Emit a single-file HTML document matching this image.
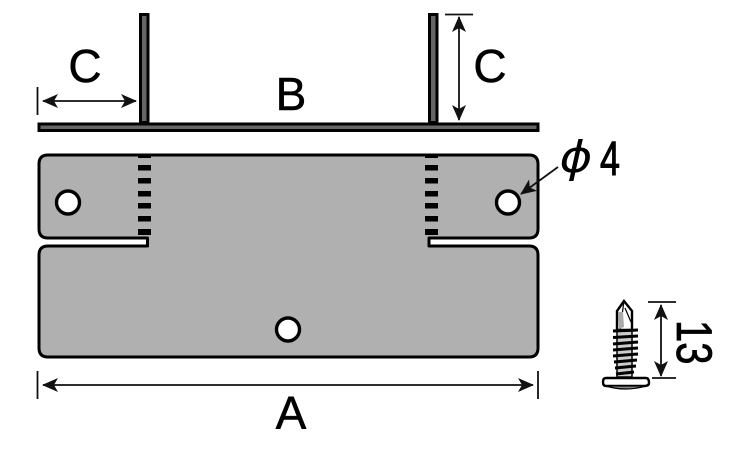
<!DOCTYPE html>
<html><head><meta charset="utf-8"><style>
html,body{margin:0;padding:0;background:#fff;width:750px;height:450px;overflow:hidden}
svg{display:block}
text{font-family:"Liberation Sans",sans-serif;fill:#000}
</style></head><body>
<svg width="750" height="450" viewBox="0 0 750 450" xmlns="http://www.w3.org/2000/svg">
<defs>
<marker id="ah" viewBox="0 0 16 14" refX="15" refY="7" markerWidth="16" markerHeight="14" markerUnits="userSpaceOnUse" orient="auto-start-reverse"><path d="M0,0L16,7L0,14L4,7Z" fill="#111"/></marker>
</defs>
<!-- top profile -->
<rect x="140.500" y="14.500" width="7.500" height="108" fill="#666" stroke="#000" stroke-width="3"/>
<rect x="429.500" y="14.500" width="7.500" height="108" fill="#666" stroke="#000" stroke-width="3"/>
<rect x="39" y="124" width="499" height="6.500" fill="#666" stroke="#000" stroke-width="3"/>
<!-- plate -->
<path d="M147.500,246H48Q39,246 39,255V348Q39,357 48,357H529Q538,357 538,348V255Q538,246 529,246H429V238H529Q538,238 538,229V164Q538,155 529,155H48Q39,155 39,164V229Q39,238 48,238H147.500Z" fill="#b0b0b0" stroke="#000" stroke-width="3" stroke-linejoin="round"/>
<!-- bend dashes -->
<g fill="#000">
<rect x="138" y="154" width="13" height="4"/><rect x="138" y="165" width="13" height="5.500"/><rect x="138" y="178" width="13" height="5.500"/><rect x="138" y="191" width="13" height="5.500"/><rect x="138" y="203" width="13" height="5.500"/><rect x="138" y="216" width="13" height="5.500"/><rect x="138" y="229" width="13" height="6"/>
<rect x="425" y="154" width="13" height="4"/><rect x="425" y="165" width="13" height="5.500"/><rect x="425" y="178" width="13" height="5.500"/><rect x="425" y="191" width="13" height="5.500"/><rect x="425" y="203" width="13" height="5.500"/><rect x="425" y="216" width="13" height="5.500"/><rect x="425" y="229" width="13" height="6"/>
</g>
<!-- holes -->
<g fill="#fff" stroke="#000" stroke-width="3.400">
<circle cx="68" cy="202.500" r="11.500"/><circle cx="508" cy="202.500" r="11.500"/><circle cx="288" cy="329.500" r="11.500"/>
</g>
<!-- dimensions -->
<g stroke="#111" stroke-width="1.800" fill="none">
<path d="M37.500,87V115M445,14.500H473M37.500,371V399M538,371V399M648,302H676M652,378H676"/>
<path d="M43,101H136" marker-start="url(#ah)" marker-end="url(#ah)"/>
<path d="M459,17V120" marker-start="url(#ah)" marker-end="url(#ah)"/>
<path d="M43,385H533" marker-start="url(#ah)" marker-end="url(#ah)"/>
<path d="M661,305V376" marker-start="url(#ah)" marker-end="url(#ah)"/>
<path d="M558,167L521,194" marker-end="url(#ah)"/>
</g>
<!-- labels -->
<g stroke="#000" stroke-width="0.500">
<text x="85" y="82" font-size="46" text-anchor="middle">C</text>
<text x="490" y="82" font-size="46" text-anchor="middle">C</text>
<text x="291" y="110" font-size="46" text-anchor="middle">B</text>
<text x="291" y="429" font-size="46" text-anchor="middle">A</text>
</g>
<text transform="translate(576,172) scale(1.25,1.1)" font-size="40" text-anchor="middle" style="font-family:'DejaVu Sans',sans-serif" font-style="italic">ϕ</text>
<text transform="translate(610,175) scale(0.78,1.05)" font-size="46" text-anchor="middle" stroke="#000" stroke-width="1">4</text>
<text transform="translate(677,320) rotate(90) scale(0.8,1)" font-size="50" stroke="#000" stroke-width="0.800">13</text>
<!-- screw -->
<g stroke="#000" fill="none">
<path d="M624,301L617,311V330H632V311Z" fill="#fff" stroke-width="2.400"/>
<path d="M624,301L620,330M625,308L631,322" stroke-width="1.200"/>
<path d="M618,312L619,329L624,327L623,312Z" fill="#aaa" stroke="none"/>
<rect x="617" y="330" width="15" height="47" fill="#ccc" stroke-width="1.500"/>
<path d="M613,331L638,330M613,337.500L638,336M613,344L638,342M613,350L638,348M613,356L638,354M614,362L637,360M615,368L636,366M616,374L634,372" stroke-width="3"/>
<path d="M606,378H646Q649,378 649,383Q649,386 644,386H606Q603,386 603,382Q603,378 606,378Z" fill="#fff" stroke-width="2.400"/>
<path d="M606,386Q625,392 646,386Z" fill="#888" stroke-width="1.200"/>
</g>
</svg>
</body></html>
